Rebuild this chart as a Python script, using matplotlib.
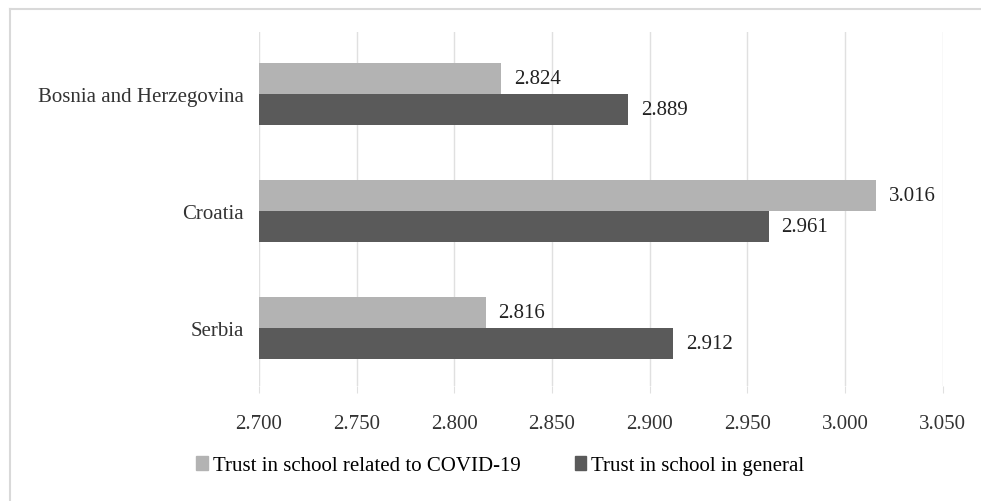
import matplotlib
matplotlib.use("Agg")
import matplotlib.pyplot as plt
import numpy as np
from matplotlib.patches import Patch
from matplotlib.lines import Line2D

countries = ["Bosnia and Herzegovina", "Croatia", "Serbia"]
covid_trust = [2.824, 3.016, 2.816]
general_trust = [2.889, 2.961, 2.912]
xticks = [2.700, 2.750, 2.800, 2.850, 2.900, 2.950, 3.000, 3.050]
series_names = ["Trust in school related to COVID-19", "Trust in school in general"]

light = "#b3b3b3"
dark = "#5a5a5a"

plt.rcParams['font.family'] = ['Liberation Serif', 'DejaVu Serif']

fig = plt.figure(figsize=(9.81, 5.02), dpi=100)
ax = fig.add_axes([0.264, 0.229, 0.697, 0.705])

y = np.arange(len(countries))[::-1]
h = 0.265
ax.barh(y + h / 2, [v - 2.7 for v in covid_trust], left=2.7, height=h, color=light, zorder=3)
ax.barh(y - h / 2, [v - 2.7 for v in general_trust], left=2.7, height=h, color=dark, zorder=3)

for yi, v in zip(y, covid_trust):
    ax.annotate("%.3f" % v, (v, yi + h / 2), xytext=(9, 0), textcoords="offset points",
                va="center", ha="left", fontsize=15, color="#222222")
for yi, v in zip(y, general_trust):
    ax.annotate("%.3f" % v, (v, yi - h / 2), xytext=(9, 0), textcoords="offset points",
                va="center", ha="left", fontsize=15, color="#222222")

ax.set_xlim(2.7, 3.05)
ax.set_ylim(-0.5, 2.53)
ax.set_xticks(xticks)
ax.set_xticklabels(["%.3f" % t for t in xticks], fontsize=15, color="#333333")
ax.set_yticks(y)
ax.set_yticklabels(countries, fontsize=15, color="#333333")
ax.tick_params(axis="y", length=0, pad=11)
ax.tick_params(axis="x", length=5, color="#e0e0e0", pad=15)
ax.grid(axis="x", color="#e0e0e0", linewidth=1, zorder=0)
for s in ax.spines.values():
    s.set_visible(False)

handles = [Patch(color=light), Patch(color=dark)]
fig.legend(handles, series_names, loc="center", bbox_to_anchor=(0.51, 0.07), ncol=2,
           frameon=False, fontsize=15, handlelength=0.55, handleheight=0.6,
           handletextpad=0.25, columnspacing=2.6)

# outer frame: top and left edges only
fig.add_artist(Line2D([0.01, 1.0], [0.98, 0.98], transform=fig.transFigure,
                      color="#d9d9d9", linewidth=1.5))
fig.add_artist(Line2D([0.01, 0.01], [0.0, 0.98], transform=fig.transFigure,
                      color="#d9d9d9", linewidth=1.5))

plt.savefig("out.png", dpi=100)
